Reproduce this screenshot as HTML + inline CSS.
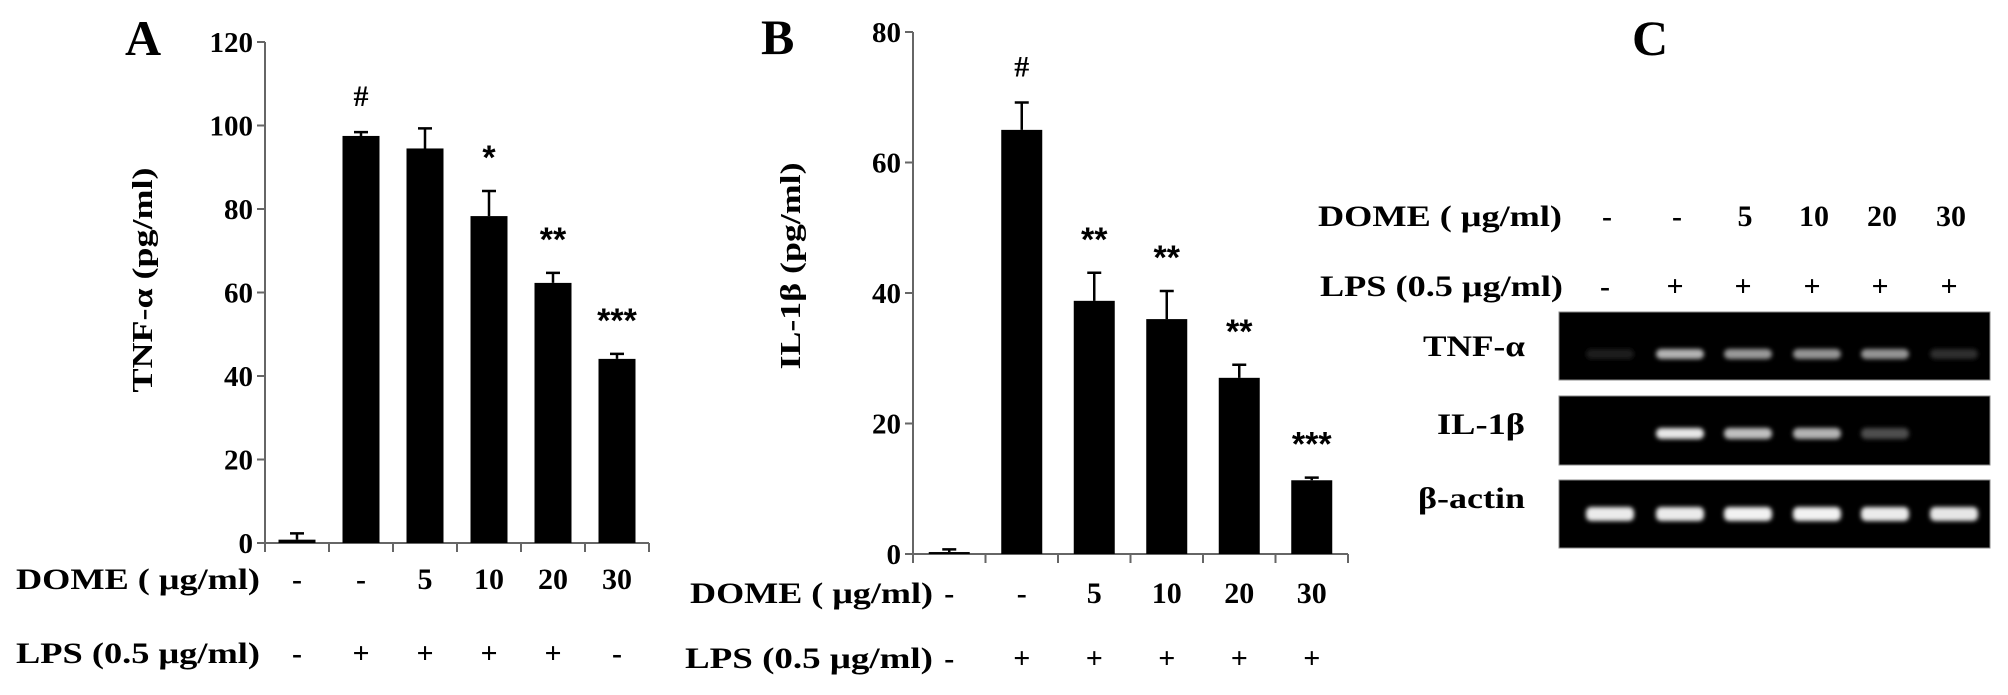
<!DOCTYPE html>
<html><head><meta charset="utf-8"><style>
html,body{margin:0;padding:0;background:#fff;}
svg{display:block;font-family:"Liberation Serif",serif;font-weight:bold;}
</style></head><body>
<svg id="fig" width="2008" height="695" viewBox="0 0 2008 695" xmlns="http://www.w3.org/2000/svg">
<defs>
<filter id="blur" x="-30%" y="-100%" width="160%" height="300%"><feGaussianBlur stdDeviation="2.2"/></filter>
</defs>
<rect width="2008" height="695" fill="#fff"/>
<g id="panelA"></g>
<g id="panelB"></g>
<g id="panelC"></g>
</svg>
<script>
const NS="http://www.w3.org/2000/svg";
// Panel A data
const aDome=["-","-","5","10","20","30"];
const aLps=["-","+","+","+","+","-"];
const aValues=[0.8,97.5,94.5,78.3,62.3,44.1];
const aErrors=[1.5,0.9,4.8,6.0,2.4,1.2];
const aSig=["","#","","*","**","***"];
const aTicks=[0,20,40,60,80,100,120];
// Panel B data
const bDome=["-","-","5","10","20","30"];
const bLps=["-","+","+","+","+","+"];
const bValues=[0.3,65.0,38.8,36.0,27.0,11.3];
const bErrors=[0.4,4.2,4.3,4.3,2.0,0.4];
const bSig=["","#","**","**","**","***"];
const bTicks=[0,20,40,60,80];
// Panel C data
const cDome=["-","-","5","10","20","30"];
const cLps=["-","+","+","+","+","+"];
const cTnf=[0.12,0.7,0.6,0.58,0.58,0.18];
const cIl=[0,0.9,0.75,0.7,0.3,0];
const cActin=[0.92,0.92,0.95,0.95,0.92,0.9];

function el(parent,tag,attrs,text){const e=document.createElementNS(NS,tag);for(const k in attrs)e.setAttribute(k,attrs[k]);if(text!==undefined)e.textContent=text;parent.appendChild(e);return e;}

function drawChart(g,cfg){
  const y=v=>cfg.y0-(v)*(cfg.y0-cfg.yTop)/cfg.max;
  const x=i=>cfg.x0+cfg.step*(i+0.5);
  const xEnd=cfg.x0+cfg.step*cfg.values.length;
  // axes
  const ax=el(g,"line",{x1:cfg.x0,y1:y(cfg.max),x2:cfg.x0,y2:cfg.y0,stroke:"#666","stroke-width":2});
  
  
  const xa=el(g,"line",{x1:cfg.x0,y1:cfg.y0,x2:xEnd,y2:cfg.y0,stroke:"#666","stroke-width":2});
  
  
  cfg.ticks.forEach(t=>{
    const tl=el(g,"line",{x1:cfg.x0-8,y1:y(t),x2:cfg.x0,y2:y(t),stroke:"#666","stroke-width":2});
    
    
    const tt=el(g,"text",{x:cfg.x0-12,y:y(t)+10,"text-anchor":"end","font-size":29},String(t));
    
    
  });
  for(let i=0;i<=cfg.values.length;i++){
    const xt=cfg.x0+cfg.step*i;
    const tk=el(g,"line",{x1:xt,y1:cfg.y0,x2:xt,y2:cfg.y0+9,stroke:"#666","stroke-width":2});
    
    
  }
  cfg.values.forEach((v,i)=>{
    const cx=x(i),top=y(v),et=y(v+cfg.errors[i]);
    const r=el(g,"rect",{x:cx-cfg.bw/2,y:top,width:cfg.bw,height:Math.max(cfg.y0-top,1.5),fill:"#000"});
    
    
    const e=el(g,"path",{d:`M${cx} ${top} V${et} M${cx-7} ${et} H${cx+7}`,stroke:"#000","stroke-width":2.5,fill:"none"});
    
    
    if(cfg.sig[i]){
      const isHash=cfg.sig[i]==="#";
      const s=el(g,"text",{x:cx,y:et-(isHash?26:22),"text-anchor":"middle","font-size":isHash?30:34,"font-family":isHash?"Liberation Serif, serif":"Liberation Sans, sans-serif"},cfg.sig[i]);
      
      
    }
    const d=el(g,"text",{x:cx,y:cfg.domeY,"text-anchor":"middle","font-size":30},cfg.dome[i]);
    
    
    const l=el(g,"text",{x:cx,y:cfg.lpsY,"text-anchor":"middle","font-size":30},cfg.lps[i]);
    
    
  });
}

const A=document.getElementById("panelA");
drawChart(A,{x0:265,step:64,bw:37,y0:543,yTop:42,max:120,values:aValues,errors:aErrors,sig:aSig,ticks:aTicks,dome:aDome,lps:aLps,domeY:589,lpsY:663});
const B=document.getElementById("panelB");
drawChart(B,{x0:913,step:72.5,bw:41,y0:554,yTop:32,max:80,values:bValues,errors:bErrors,sig:bSig,ticks:bTicks,dome:bDome,lps:bLps,domeY:603,lpsY:668});

// static labels
function label(parent,name,x,y,txt,size,anchor,len,extra){
  const t=el(parent,"text",Object.assign({x:x,y:y,"font-size":size,"text-anchor":anchor||"start"},len?{textLength:len,lengthAdjust:"spacingAndGlyphs"}:{},extra||{}),txt);
  
  
  return t;
}
label(A,"panel-letter-a",125,55,"A",50,"start");
label(A,"dome-row-title",16,589,"DOME ( μg/ml)",30,"start",244);
label(A,"lps-row-title",16,663,"LPS (0.5 μg/ml)",30,"start",244);
label(A,"y-axis-title",0,0,"TNF-α (pg/ml)",29,"middle",225,{transform:"translate(152,280) rotate(-90)"});
label(B,"panel-letter-b",761,54,"B",50,"start");
label(B,"dome-row-title",690,603,"DOME ( μg/ml)",30,"start",243);
label(B,"lps-row-title",685,668,"LPS (0.5 μg/ml)",30,"start",248);
label(B,"y-axis-title",0,0,"IL-1β (pg/ml)",29,"middle",207,{transform:"translate(800,266) rotate(-90)"});

// Panel C
const C=document.getElementById("panelC");
label(C,"panel-letter-c",1632,55,"C",50,"start");
label(C,"dome-row-title",1318,226,"DOME ( μg/ml)",30,"start",244);
label(C,"lps-row-title",1320,296,"LPS (0.5 μg/ml)",30,"start",243);
label(C,"tnf-gel-label",1525,356,"TNF-α",30,"end",102);
label(C,"il1b-gel-label",1525,434,"IL-1β",30,"end",88);
label(C,"bactin-gel-label",1525,508,"β-actin",30,"end",107);
const laneX=[1610,1680,1748,1817,1885,1954];
cDome.forEach((d,i)=>{
  const t=el(C,"text",{x:laneX[i]-3,y:226,"text-anchor":"middle","font-size":30},d);
  
  
  const l=el(C,"text",{x:laneX[i]-5,y:296,"text-anchor":"middle","font-size":30},cLps[i]);
  
  
});
const gels=[{name:"tnf-gel",y:312,h:68,vals:cTnf,by:349,bh:10},{name:"il1b-gel",y:396,h:69,vals:cIl,by:428,bh:11},{name:"bactin-gel",y:480,h:68,vals:cActin,by:507,bh:14}];
gels.forEach(gd=>{
  const g=el(C,"g",{});
  
  
  el(g,"rect",{x:1559,y:gd.y,width:431,height:gd.h,fill:"#000",stroke:"#888","stroke-width":1});
  gd.vals.forEach((v,i)=>{
    if(v<=0)return;
    const c=Math.round(255*v);
    const b=el(g,"rect",{x:laneX[i]-24,y:gd.by,width:48,height:gd.bh,rx:5,fill:`rgb(${c},${c},${c})`,filter:"url(#blur)"});
    
    
  });
});
</script>
</body></html>
